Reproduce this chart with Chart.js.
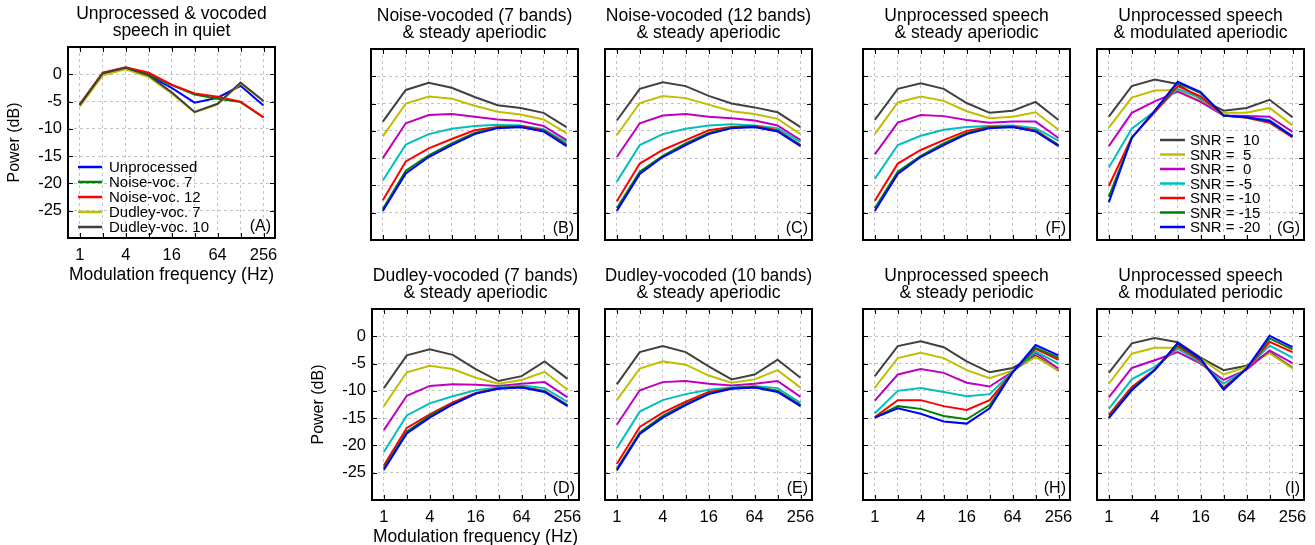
<!DOCTYPE html>
<html><head><meta charset="utf-8">
<script src="https://cdn.jsdelivr.net/npm/chart.js@4/dist/chart.umd.min.js"></script>
<style>
html,body{margin:0;padding:0;background:#fff;overflow:hidden;width:1315px;height:545px;position:relative;}
canvas{position:absolute;}
</style></head><body>
<script>
// ---------- data ----------
const freqs = [1, 2, 4, 8, 16, 32, 64, 128, 256];
const xTickLabels = ['1', '4', '16', '64', '256'];
const yTicks = [-25, -20, -15, -10, -5, 0];

const quietLabels = ['Unprocessed', 'Noise-voc. 7', 'Noise-voc. 12', 'Dudley-voc. 7', 'Dudley-voc. 10'];
const quietColors = ['#0000ff', '#008000', '#ff0000', '#bfbf00', '#404040'];
const snrLabels = ['SNR =  10', 'SNR =  5', 'SNR =  0', 'SNR = -5', 'SNR = -10', 'SNR = -15', 'SNR = -20'];
const snrColors = ['#404040', '#bfbf00', '#bf00bf', '#00bfbf', '#ff0000', '#008000', '#0000ff'];

const quietA = [
  [-5.7, 0.2, 1.2, -0.2, -2.5, -5.2, -4.3, -2.1, -5.7],
  [-5.5, 0.2, 1.2, 0.0, -2.0, -3.7, -4.5, -5.1, -7.9],
  [-5.5, 0.3, 1.3, 0.3, -1.9, -3.5, -4.1, -5.0, -7.9],
  [-5.9, -0.2, 0.9, -0.5, -3.5, -7.0, -5.5, -1.7, -4.9],
  [-5.6, 0.2, 1.2, -0.2, -3.3, -6.9, -5.4, -1.5, -4.9]
];
const panelB = [
  [-8.3, -2.5, -1.2, -2.1, -3.8, -5.3, -5.8, -6.7, -9.3],
  [-11.0, -5.0, -3.7, -4.1, -5.4, -6.5, -7.0, -7.9, -10.4],
  [-15.0, -8.6, -7.1, -6.9, -7.4, -7.9, -8.2, -9.1, -11.7],
  [-19.1, -12.5, -10.6, -9.6, -9.1, -8.9, -9.0, -9.7, -12.1],
  [-22.7, -15.6, -13.2, -11.5, -9.9, -9.3, -9.1, -9.9, -12.5],
  [-24.3, -17.3, -14.5, -12.3, -10.4, -9.4, -9.3, -10.0, -12.6],
  [-24.7, -17.8, -14.8, -12.6, -10.6, -9.5, -9.3, -10.1, -12.8]
];
const panelC = [
  [-8.1, -2.3, -1.1, -1.8, -3.6, -5.0, -5.7, -6.6, -9.3],
  [-10.8, -4.9, -3.6, -4.0, -5.2, -6.4, -6.9, -7.8, -10.6],
  [-14.8, -8.6, -7.2, -6.9, -7.4, -7.7, -8.1, -9.0, -11.7],
  [-19.3, -12.6, -10.6, -9.6, -9.0, -8.8, -9.0, -9.5, -12.0],
  [-22.9, -16.0, -13.5, -11.7, -9.9, -9.3, -9.1, -9.9, -12.6],
  [-24.2, -17.5, -14.6, -12.3, -10.4, -9.4, -9.3, -10.0, -12.6],
  [-24.7, -17.9, -14.8, -12.6, -10.6, -9.5, -9.3, -10.1, -12.8]
];
const panelF = [
  [-8.0, -2.3, -1.3, -2.3, -4.9, -6.7, -6.3, -4.7, -8.0],
  [-10.6, -4.8, -3.7, -4.5, -6.4, -7.7, -7.4, -6.6, -9.8],
  [-14.3, -8.5, -7.1, -7.3, -8.0, -8.5, -8.3, -8.3, -11.3],
  [-18.8, -12.6, -10.9, -9.8, -9.3, -9.1, -9.0, -9.5, -11.8],
  [-22.8, -16.0, -13.5, -11.7, -10.0, -9.3, -9.2, -9.9, -12.6],
  [-24.2, -17.5, -14.6, -12.3, -10.4, -9.4, -9.3, -10.0, -12.6],
  [-24.7, -17.9, -14.8, -12.6, -10.6, -9.5, -9.3, -10.1, -12.8]
];
const panelG = [
  [-7.4, -1.8, -0.6, -1.4, -4.2, -6.3, -5.8, -4.3, -7.5],
  [-9.4, -3.9, -2.6, -2.5, -4.6, -6.7, -6.7, -5.8, -9.0],
  [-12.8, -6.7, -4.6, -2.8, -4.7, -7.2, -7.3, -7.4, -10.2],
  [-16.7, -9.6, -6.4, -2.3, -4.0, -7.2, -7.5, -8.0, -11.0],
  [-20.1, -11.2, -6.6, -1.8, -3.7, -7.2, -7.6, -8.5, -11.2],
  [-22.1, -11.3, -6.4, -1.2, -3.1, -7.2, -7.5, -8.3, -11.0],
  [-23.1, -11.3, -6.3, -1.0, -2.9, -7.2, -7.5, -8.2, -11.0]
];
const panelD = [
  [-9.5, -3.5, -2.4, -3.4, -6.0, -8.2, -7.3, -4.6, -7.8],
  [-12.8, -6.6, -5.4, -6.0, -7.6, -8.7, -8.0, -6.5, -9.8],
  [-17.2, -10.9, -9.1, -8.8, -8.9, -9.1, -8.7, -8.4, -11.2],
  [-21.2, -14.5, -12.3, -11.0, -9.9, -9.4, -9.0, -9.5, -12.0],
  [-23.7, -16.8, -14.3, -12.1, -10.4, -9.5, -9.3, -10.0, -12.6],
  [-24.2, -17.5, -14.6, -12.4, -10.5, -9.5, -9.3, -10.1, -12.7],
  [-24.5, -17.8, -14.9, -12.5, -10.5, -9.6, -9.4, -10.2, -12.8]
];
const panelE = [
  [-8.8, -2.9, -1.8, -2.9, -5.5, -7.9, -7.0, -4.3, -7.6],
  [-11.7, -5.9, -4.6, -5.2, -7.2, -8.5, -7.9, -6.2, -9.4],
  [-16.2, -9.9, -8.4, -8.2, -8.7, -9.0, -8.7, -8.2, -11.1],
  [-20.5, -13.8, -11.7, -10.6, -9.8, -9.4, -9.1, -9.5, -12.2],
  [-23.4, -16.6, -14.0, -12.0, -10.2, -9.5, -9.3, -10.0, -12.6],
  [-24.3, -17.6, -14.6, -12.4, -10.5, -9.5, -9.3, -10.0, -12.7],
  [-24.6, -17.9, -14.9, -12.6, -10.6, -9.6, -9.4, -10.2, -12.8]
];
const panelH = [
  [-7.3, -1.8, -0.9, -2.0, -4.6, -6.6, -5.8, -3.5, -6.3],
  [-9.4, -4.0, -3.0, -4.0, -6.2, -7.7, -6.3, -3.8, -6.2],
  [-11.8, -7.0, -6.0, -6.7, -8.5, -9.2, -6.5, -3.0, -5.9],
  [-14.1, -10.0, -9.5, -10.2, -11.0, -10.6, -6.5, -2.8, -5.0],
  [-14.8, -11.7, -11.7, -12.8, -13.5, -11.7, -6.6, -2.3, -4.3],
  [-14.9, -12.8, -13.3, -14.6, -15.2, -12.6, -6.6, -2.1, -3.9],
  [-14.9, -13.2, -14.2, -15.6, -16.0, -13.2, -6.6, -1.6, -3.5]
];
const panelI = [
  [-6.7, -1.3, -0.3, -1.1, -3.9, -6.2, -5.4, -2.9, -5.8],
  [-8.7, -3.2, -2.1, -2.1, -4.1, -7.0, -5.6, -3.1, -5.9],
  [-11.2, -5.8, -4.4, -2.9, -5.0, -8.0, -6.1, -2.6, -4.9],
  [-13.3, -7.9, -5.6, -2.3, -4.8, -8.7, -5.9, -1.7, -3.9],
  [-14.4, -9.3, -6.1, -1.8, -4.5, -9.4, -5.9, -1.0, -2.9],
  [-14.8, -9.6, -6.2, -1.5, -4.3, -9.6, -5.9, -0.4, -2.4],
  [-15.0, -9.9, -6.2, -1.2, -4.1, -9.8, -5.9, 0.1, -2.0]
];

// ---------- styling / layout ----------
const FONT = "'Liberation Sans', Arial, Helvetica, sans-serif";
Chart.defaults.font.family = FONT;
Chart.defaults.color = '#000';

const PW = 207, PH = 191, TOPM = 47;

const framePlugin = {
  id: 'frame',
  afterDraw(chart) {
    const {ctx, chartArea: a, scales} = chart;
    ctx.save();
    ctx.strokeStyle = '#000';
    ctx.lineWidth = 1;
    ctx.beginPath();
    scales.y.ticks.forEach(t => {
      const y = Math.round(scales.y.getPixelForValue(t.value)) + 0.5;
      ctx.moveTo(a.left, y); ctx.lineTo(a.left + 5, y);
      ctx.moveTo(a.right, y); ctx.lineTo(a.right - 5, y);
    });
    scales.x.ticks.forEach(t => {
      const x = Math.round(scales.x.getPixelForValue(t.value)) + 0.5;
      ctx.moveTo(x, a.bottom); ctx.lineTo(x, a.bottom - 5);
      ctx.moveTo(x, a.top); ctx.lineTo(x, a.top + 5);
    });
    ctx.stroke();
    ctx.lineWidth = 2;
    ctx.strokeRect(a.left, a.top, a.right - a.left, a.bottom - a.top);
    ctx.restore();
  }
};

const innerLegendPlugin = {
  id: 'innerLegend',
  afterDraw(chart, args, opts) {
    if (!opts || !opts.show) return;
    const {ctx, chartArea: a} = chart;
    ctx.save();
    ctx.font = opts.fontSize + 'px ' + FONT;
    ctx.textBaseline = 'middle';
    ctx.textAlign = 'left';
    chart.data.datasets.forEach((ds, i) => {
      const y = a.top + opts.y + i * opts.rowH;
      const x = a.left + opts.x;
      ctx.strokeStyle = ds.borderColor;
      ctx.lineWidth = 2.5;
      ctx.beginPath(); ctx.moveTo(x, y); ctx.lineTo(x + opts.lineLen, y); ctx.stroke();
      ctx.fillStyle = '#000';
      ctx.fillText(ds.label, x + opts.lineLen + opts.gap, y + 1);
    });
    ctx.restore();
  }
};

const panelLabelPlugin = {
  id: 'panelLabel',
  afterDraw(chart, args, opts) {
    if (!opts || !opts.text) return;
    const {ctx, chartArea: a} = chart;
    ctx.save();
    ctx.font = '16px ' + FONT;
    ctx.textAlign = 'right';
    ctx.textBaseline = 'middle';
    ctx.fillStyle = '#000';
    ctx.fillText(opts.text, a.right - 4, a.bottom - 11);
    ctx.restore();
  }
};

function makePanel(p) {
  const L = p.showY ? 68 : 4;
  const R = 22;
  const B = p.xTitle ? 48 : (p.xTicks ? 30 : 4);
  const cw = L + PW + R, chh = TOPM + PH + B;
  const cv = document.createElement('canvas');
  cv.width = cw; cv.height = chh;
  cv.style.left = (p.left - L) + 'px';
  cv.style.top = (p.top - TOPM) + 'px';
  cv.style.width = cw + 'px'; cv.style.height = chh + 'px';
  document.body.appendChild(cv);
  const n = p.rows.length;
  const datasets = p.rows.map((vals, i) => ({
    label: p.labels[i],
    data: freqs.map((f, k) => ({x: f, y: vals[k]})),
    borderColor: p.colors[i],
    backgroundColor: p.colors[i],
    borderWidth: 2,
    pointRadius: 0,
    tension: 0,
    fill: false,
    order: n - 1 - i
  }));
  new Chart(cv, {
    type: 'line',
    data: {datasets},
    plugins: [framePlugin, innerLegendPlugin, panelLabelPlugin],
    options: {
      responsive: false,
      animation: false,
      devicePixelRatio: 1,
      layout: {padding: {left: 0, right: R, top: 0, bottom: 0}},
      plugins: {
        legend: {display: false},
        tooltip: {enabled: false},
        title: {
          display: true, text: p.title, fullSize: false, color: '#000',
          font: {family: FONT, size: 17.5, weight: 'normal', lineHeight: 1},
          padding: {top: 5, bottom: 7}
        },
        innerLegend: p.legend || {show: false},
        panelLabel: {text: p.tag}
      },
      scales: {
        x: {
          type: 'logarithmic',
          min: Math.pow(2, -0.5), max: Math.pow(2, 8.5),
          position: 'bottom',
          afterBuildTicks: s => { s.ticks = freqs.map(v => ({value: v})); },
          afterFit: s => { s.height = B; },
          ticks: {
            display: !!p.xTicks, autoSkip: false, maxRotation: 0, minRotation: 0,
            padding: 9, color: '#000',
            font: {family: FONT, size: 16.5, lineHeight: 1},
            callback: v => xTickLabels.includes(String(v)) ? String(v) : ''
          },
          grid: {color: '#c4c4c4', lineWidth: 1, drawTicks: false},
          border: {display: false, dash: [3, 3]},
          title: {
            display: !!p.xTitle, text: 'Modulation frequency (Hz)', color: '#000',
            font: {family: FONT, size: 17.5, lineHeight: 1},
            padding: {top: 0, bottom: 2}
          }
        },
        y: {
          type: 'linear', min: -30, max: 5,
          afterBuildTicks: s => { s.ticks = yTicks.map(v => ({value: v})); },
          afterFit: s => { s.width = L; },
          ticks: {
            display: !!p.showY, padding: 6, color: '#000',
            font: {family: FONT, size: 16.5, lineHeight: 1},
            callback: v => String(v)
          },
          grid: {color: '#c4c4c4', lineWidth: 1, drawTicks: false},
          border: {display: false, dash: [3, 3]},
          title: {
            display: !!p.showY, text: 'Power (dB)', color: '#000',
            font: {family: FONT, size: 16, lineHeight: 1},
            padding: {top: 6.5, bottom: 0}
          }
        }
      }
    }
  });
}

const snrLegend = {show: true, x: 63, y: 91, rowH: 14.5, lineLen: 25, gap: 5, fontSize: 15};
const quietLegend = {show: true, x: 10, y: 120, rowH: 15, lineLen: 24, gap: 7, fontSize: 15};

const panels = [
  {tag: '(A)', title: ['Unprocessed & vocoded', 'speech in quiet'], rows: quietA, labels: quietLabels, colors: quietColors,
   left: 68, top: 47, showY: true, xTicks: true, xTitle: true, legend: quietLegend},
  {tag: '(B)', title: ['Noise-vocoded (7 bands)', '& steady aperiodic'], rows: panelB, labels: snrLabels, colors: snrColors,
   left: 371, top: 49},
  {tag: '(C)', title: ['Noise-vocoded (12 bands)', '& steady aperiodic'], rows: panelC, labels: snrLabels, colors: snrColors,
   left: 605, top: 49},
  {tag: '(F)', title: ['Unprocessed speech', '& steady aperiodic'], rows: panelF, labels: snrLabels, colors: snrColors,
   left: 863, top: 49},
  {tag: '(G)', title: ['Unprocessed speech', '& modulated aperiodic'], rows: panelG, labels: snrLabels, colors: snrColors,
   left: 1097, top: 49, legend: snrLegend},
  {tag: '(D)', title: ['Dudley-vocoded (7 bands)', '& steady aperiodic'], rows: panelD, labels: snrLabels, colors: snrColors,
   left: 372, top: 309, showY: true, xTicks: true, xTitle: true},
  {tag: '(E)', title: ['Dudley-vocoded (10 bands)', '& steady aperiodic'], rows: panelE, labels: snrLabels, colors: snrColors,
   left: 605, top: 309, xTicks: true},
  {tag: '(H)', title: ['Unprocessed speech', '& steady periodic'], rows: panelH, labels: snrLabels, colors: snrColors,
   left: 863, top: 309, xTicks: true},
  {tag: '(I)', title: ['Unprocessed speech', '& modulated periodic'], rows: panelI, labels: snrLabels, colors: snrColors,
   left: 1097, top: 309, xTicks: true}
];
panels.forEach(makePanel);
</script>
</body></html>
